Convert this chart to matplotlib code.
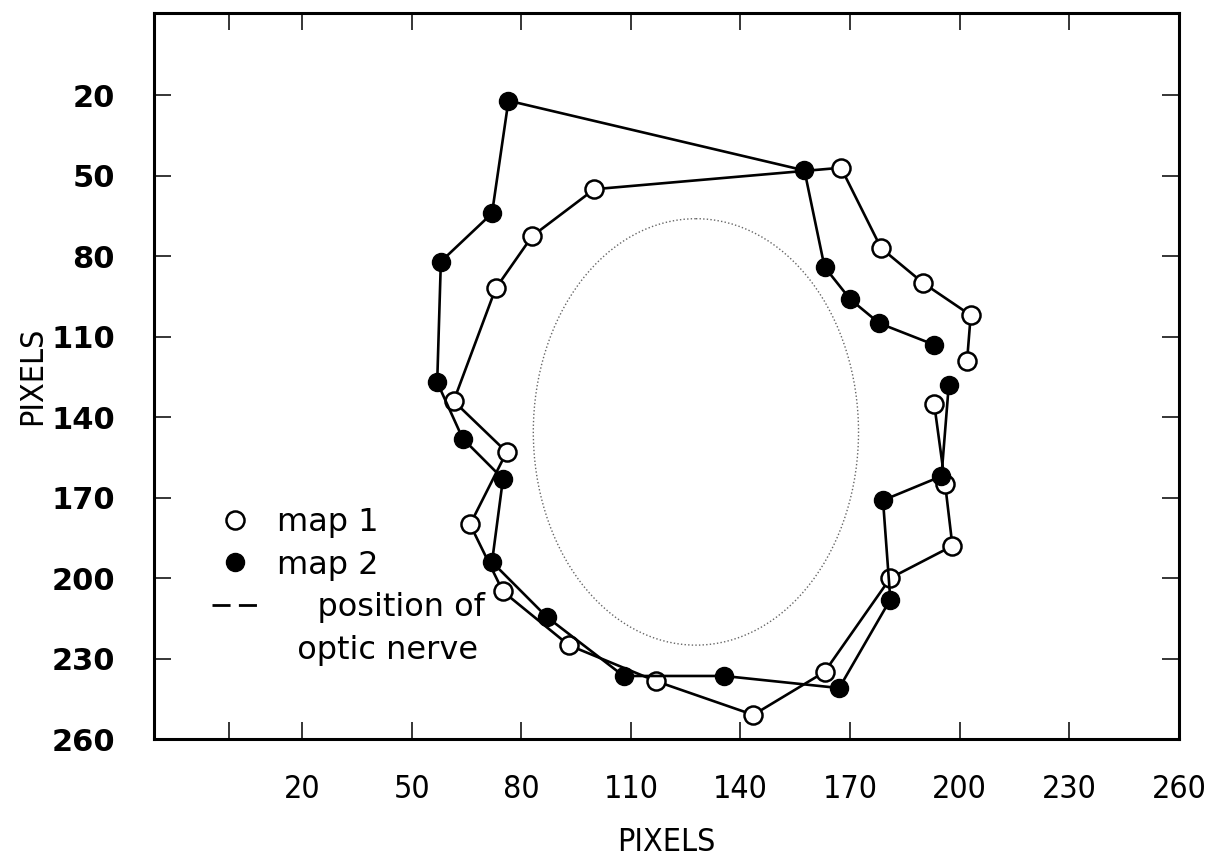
import matplotlib
matplotlib.use("Agg")
import matplotlib.pyplot as plt
from matplotlib.patches import Ellipse
from matplotlib.lines import Line2D

# ---- data ----
map1_x = [202, 203, 190, 178.5, 167.5, 100, 83, 73, 61.5, 76, 66, 75, 93, 117, 143.5, 163, 181, 198, 196, 193]
map1_y = [119, 102, 90, 77, 47, 55, 72.5, 92, 134, 153, 180, 205, 225, 238.5, 251, 235, 200, 188, 165, 135]

map2_x = [193, 178, 170, 163, 157.5, 76.5, 72, 58, 57, 64, 75, 72, 87, 108, 135.5, 167, 181, 179, 195, 197]
map2_y = [113, 105, 96, 84, 48, 22, 64, 82, 127, 148, 163, 194, 214.5, 236.5, 236.5, 241, 208, 171, 162, 128]

nerve_center = (127.8, 145.5)
nerve_width = 89
nerve_height = 159

x_ticks = [0, 20, 50, 80, 110, 140, 170, 200, 230, 260]
x_ticklabels = ["", "20", "50", "80", "110", "140", "170", "200", "230", "260"]
y_ticks = [20, 50, 80, 110, 140, 170, 200, 230, 260]
y_ticklabels = ["20", "50", "80", "110", "140", "170", "200", "230", "260"]

legend_labels = ["map 1", "map 2", "    position of", "  optic nerve"]

# ---- figure ----
fig = plt.figure(figsize=(12.21, 8.63), dpi=100)
ax = fig.add_axes([154/1221, 1-739/863, (1179-154)/1221, (739-13)/863])

ax.plot(map1_x, map1_y, color="black", lw=1.9, marker="o", ms=13,
        mfc="white", mec="black", mew=1.8, zorder=3)
ax.plot(map2_x, map2_y, color="black", lw=1.9, marker="o", ms=13,
        mfc="black", mec="black", mew=1.0, zorder=4)

ell = Ellipse(nerve_center, nerve_width, nerve_height, fill=False,
              edgecolor="#666666", lw=1.0, linestyle=(0, (1, 1.6)), zorder=2)
ax.add_patch(ell)

ax.set_xlim(-20.5, 260)
ax.set_ylim(260, -10.7)

narrow = dict(family="DejaVu Sans", stretch="condensed")

ax.set_xticks(x_ticks)
ax.set_xticklabels(x_ticklabels, fontsize=23, **narrow)
ax.set_yticks(y_ticks)
ax.set_yticklabels(y_ticklabels, family="DejaVu Sans", fontweight="bold", fontsize=22)

ax.tick_params(axis="x", direction="in", length=12, width=1.1, top=True, bottom=True, pad=25)
ax.tick_params(axis="y", direction="in", length=12, width=1.1, left=True, right=True, pad=28)
for sp in ax.spines.values():
    sp.set_linewidth(2.2)

ax.set_xlabel("PIXELS", fontsize=23, labelpad=16, **narrow)
ax.set_ylabel("PIXELS", fontsize=23, labelpad=2, **narrow)

handles = [
    Line2D([], [], ls="none", marker="o", ms=13, mfc="white", mec="black", mew=1.8),
    Line2D([], [], ls="none", marker="o", ms=13, mfc="black", mec="black"),
    Line2D([], [], color="black", lw=2.0, ls=(0, (6.5, 3))),
    Line2D([], [], ls="none"),
]
leg = ax.legend(handles, legend_labels, loc="upper left",
                bbox_to_anchor=((212-154)/1025, 1-(507-13)/726),
                frameon=False, borderpad=0, borderaxespad=0,
                handlelength=1.45, handletextpad=0.6, labelspacing=0.36,
                prop={"family": "DejaVu Sans", "size": 23})

fig.savefig("out.png", dpi=100, facecolor="white")
